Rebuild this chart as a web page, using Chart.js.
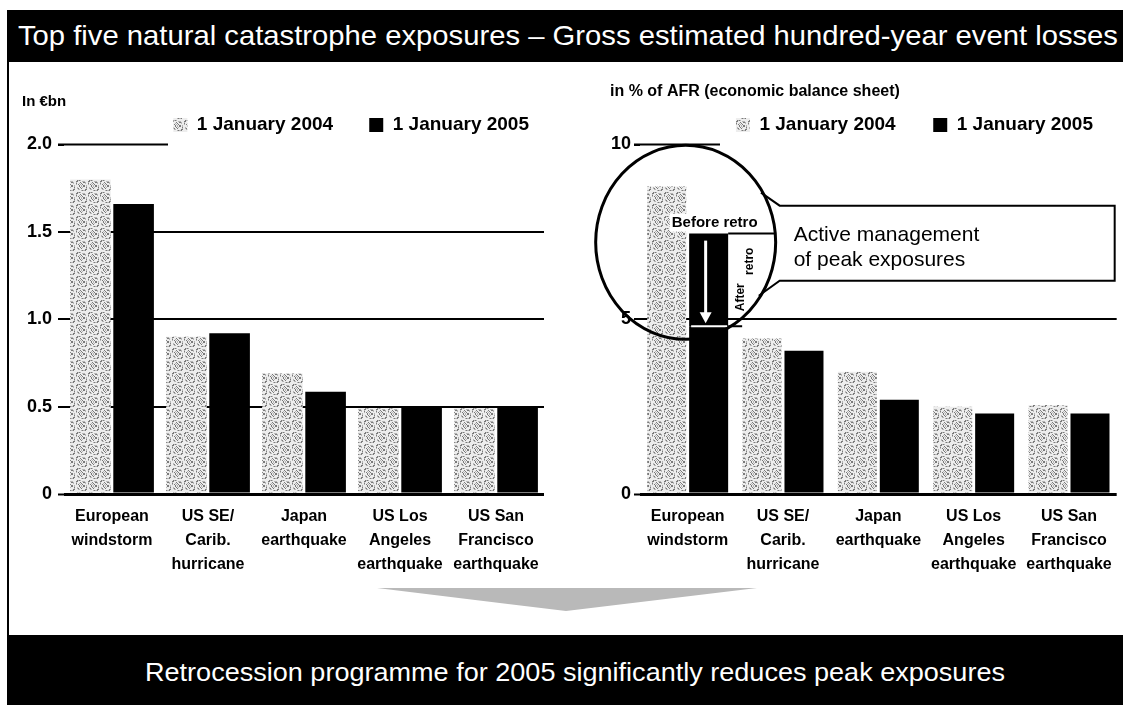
<!DOCTYPE html>
<html>
<head>
<meta charset="utf-8">
<script src="https://cdn.jsdelivr.net/npm/chart.js@4.4.1/dist/chart.umd.min.js"></script>
<style>
  html, body { margin: 0; padding: 0; background: #fff; }
  body { width: 1123px; height: 705px; position: relative; overflow: hidden; font-family: "Liberation Sans", Arial, sans-serif; }
  .band { position: absolute; left: 8px; right: 0; background: #000; color: #fff; overflow: hidden; }
  .band span { position: absolute; white-space: nowrap; transform-origin: 0 50%; }
  #header { top: 10px; height: 52px; }
  #header span { left: 10px; top: 0; line-height: 52px; font-size: 28px; }
  #footer { top: 635px; height: 70px; }
  #footer span { left: 137px; top: 0; line-height: 74px; font-size: 26px; }
  #frame { position: absolute; left: 7px; top: 10px; width: 2px; height: 695px; background: #000; }
  canvas { position: absolute; top: 78px; }
  #leftChart { left: 0; }
  #rightChart { left: 540px; }
  #wedge { position: absolute; left: 0; top: 0; }
</style>
</head>
<body>
<div id="frame"></div>
<div class="band" id="header"><span id="headerText">Top five natural catastrophe exposures – Gross estimated hundred-year event losses</span></div>
<canvas id="leftChart" width="560" height="522"></canvas>
<canvas id="rightChart" width="583" height="522"></canvas>
<svg id="wedge" width="1123" height="705"><polygon points="377,588 757,588 566,611" fill="#b9b9b9"/></svg>
<div class="band" id="footer"><span id="footerText">Retrocession programme for 2005 significantly reduces peak exposures</span></div>
<script>
const FONT = '"Liberation Sans", Arial, sans-serif';

// perils, shared by both panels
const perils = [
  ['European', 'windstorm'],
  ['US SE/', 'Carib.', 'hurricane'],
  ['Japan', 'earthquake'],
  ['US Los', 'Angeles', 'earthquake'],
  ['US San', 'Francisco', 'earthquake']
];
const seriesLabels = ['1 January 2004', '1 January 2005'];

// left panel: in EUR bn
const lossesEbn2004 = [1.80, 0.90, 0.69, 0.49, 0.49];
const lossesEbn2005 = [1.66, 0.92, 0.585, 0.50, 0.50];
const ebnTicks = [0, 0.5, 1.0, 1.5, 2.0];

// right panel: in % of AFR
const afrPct2004 = [8.8, 4.45, 3.5, 2.5, 2.55];
const afrPct2005 = [4.8, 4.1, 2.7, 2.3, 2.3];
const afrPct2005BeforeRetro = [7.45, null, null, null, null];
const afrTicks = [0, 5, 10];

function fitText(id, width) {
  const el = document.getElementById(id);
  const w = el.getBoundingClientRect().width;
  el.style.transform = 'scaleX(' + (width / w) + ')';
}
fitText('headerText', 1100);
fitText('footerText', 860);

// light speckled grey used for the 2004 bars
function stipple() {
  const c = document.createElement('canvas');
  c.width = 12; c.height = 12;
  const g = c.getContext('2d');
  g.fillStyle = '#ededed';
  g.fillRect(0, 0, 12, 12);
  for (let y = 0; y < 12; y++) {
    for (let x = 0; x < 12; x++) {
      const h = (x * 7 + y * 13 + x * y * 3) % 11;
      if (h === 0 || h === 5) { g.fillStyle = '#7a7a7a'; g.fillRect(x, y, 1, 1); }
      else if (h === 3 || h === 8) { g.fillStyle = '#b5b5b5'; g.fillRect(x, y, 1, 1); }
    }
  }
  return g.createPattern(c, 'repeat');
}
const grey = stipple();

// short rule at the top tick instead of a full grid line
const topRule = {
  id: 'topRule',
  beforeDatasetsDraw(chart, args, opts) {
    const { ctx, chartArea, scales: { y } } = chart;
    const yy = y.getPixelForValue(y.max);
    ctx.save();
    ctx.strokeStyle = '#000';
    ctx.lineWidth = 2;
    ctx.beginPath();
    ctx.moveTo(chartArea.left - 6, yy);
    ctx.lineTo(chartArea.left + opts.length, yy);
    ctx.stroke();
    ctx.restore();
  }
};

function buildOptions(cfg) {
  return {
    responsive: false,
    animation: false,
    layout: { padding: cfg.padding },
    plugins: {
      title: {
        display: true, text: cfg.unit, align: 'start', color: '#000',
        font: { family: FONT, size: cfg.unitSize, weight: 'bold' },
        padding: cfg.titlePadding
      },
      legend: {
        position: 'top', align: 'end',
        labels: {
          color: '#000', boxWidth: 14, boxHeight: 14, padding: cfg.legendPadding,
          font: { family: FONT, size: 19, weight: 'bold', lineHeight: 1 },
          filter: item => item.datasetIndex < 2,
          generateLabels: chart => {
            const items = Chart.defaults.plugins.legend.labels.generateLabels(chart);
            items[0].text += cfg.legendGap;
            return items;
          }
        }
      },
      tooltip: { enabled: false },
      topRule: { length: cfg.topRule }
    },
    scales: {
      x: {
        stacked: cfg.stacked,
        grid: { display: false, drawTicks: false },
        border: { display: false },
        ticks: {
          color: '#000', padding: 11, maxRotation: 0, autoSkip: false,
          font: { family: FONT, size: 16, weight: 'bold', lineHeight: 1.5 }
        }
      },
      y: {
        stacked: cfg.stacked,
        min: 0, max: cfg.ticks[cfg.ticks.length - 1],
        afterBuildTicks: s => { s.ticks = cfg.ticks.map(v => ({ value: v })); },
        afterFit: s => { s.width = cfg.axisWidth; },
        border: { display: false },
        grid: {
          color: c => (c.tick && c.tick.value === cfg.ticks[cfg.ticks.length - 1]) ? 'rgba(0,0,0,0)' : '#000',
          lineWidth: c => (c.tick && c.tick.value === 0) ? 3 : 2,
          tickColor: '#000', tickWidth: 2, tickLength: 6
        },
        ticks: {
          color: '#000', padding: cfg.tickPadding,
          font: { family: FONT, size: 18, weight: 'bold' },
          callback: cfg.fmt
        }
      }
    }
  };
}

new Chart(document.getElementById('leftChart'), {
  type: 'bar',
  data: {
    labels: perils,
    datasets: [
      { label: seriesLabels[0], data: lossesEbn2004, backgroundColor: grey, borderWidth: 0, categoryPercentage: 0.9, barPercentage: 0.94 },
      { label: seriesLabels[1], data: lossesEbn2005, backgroundColor: '#000', borderWidth: 0, categoryPercentage: 0.9, barPercentage: 0.94 }
    ]
  },
  options: buildOptions({
    unit: 'In €bn', unitSize: 15,
    padding: { left: 22, right: 16, top: 0, bottom: 12 },
    titlePadding: { top: 15, bottom: -10.5 },
    legendPadding: 15, legendGap: '    ',
    axisWidth: 42, tickPadding: 6, topRule: 104,
    stacked: false, ticks: ebnTicks,
    fmt: v => v === 0 ? '0' : v.toFixed(1)
  }),
  plugins: [topRule]
});

// circle + call-out around the European windstorm retro effect
const retroCallout = {
  id: 'retroCallout',
  afterDatasetsDraw(chart) {
    const { ctx, chartArea } = chart;
    const xs = chart.scales.x, ys = chart.scales.y;
    const bar = chart.getDatasetMeta(1).data[0];
    const half = bar.width / 2;
    const yBefore = ys.getPixelForValue(afrPct2005BeforeRetro[0]);
    const yAfter = ys.getPixelForValue(afrPct2005[0]);
    const cx = xs.getPixelForValue(0) - 2;
    const cy = ys.getPixelForValue(7.2);
    const rx = 90, ry = 97;
    const edgeX = y => cx + rx * Math.sqrt(Math.max(0, 1 - ((y - cy) / ry) ** 2));

    ctx.save();
    // after-retro level across the bar
    ctx.strokeStyle = '#fff';
    ctx.lineWidth = 2;
    ctx.beginPath();
    ctx.moveTo(bar.x - half + 2, yAfter);
    ctx.lineTo(bar.x + half - 1, yAfter);
    ctx.stroke();
    // arrow from before to after
    ctx.lineWidth = 3;
    ctx.beginPath();
    ctx.moveTo(bar.x - 3, yBefore + 7);
    ctx.lineTo(bar.x - 3, yAfter - 12);
    ctx.stroke();
    ctx.fillStyle = '#fff';
    ctx.beginPath();
    ctx.moveTo(bar.x - 9, yAfter - 14);
    ctx.lineTo(bar.x + 3, yAfter - 14);
    ctx.lineTo(bar.x - 3, yAfter - 3);
    ctx.closePath();
    ctx.fill();
    // before-retro level out to the circle
    ctx.strokeStyle = '#000';
    ctx.lineWidth = 2;
    ctx.beginPath();
    ctx.moveTo(bar.x + half, yBefore);
    ctx.lineTo(edgeX(yBefore), yBefore);
    ctx.stroke();
    ctx.beginPath();
    ctx.moveTo(bar.x + half, yAfter);
    ctx.lineTo(bar.x + half + 14, yAfter);
    ctx.stroke();

    // labels
    ctx.textAlign = 'center';
    ctx.textBaseline = 'middle';
    ctx.font = 'bold 15px ' + FONT;
    const before = 'Before retro';
    const bw = ctx.measureText(before).width;
    const lx = bar.x + 6, ly = yBefore - 11;
    ctx.fillStyle = '#fff';
    ctx.fillRect(lx - bw / 2 - 2, ly - 9, bw + 4, 18);
    ctx.fillStyle = '#000';
    ctx.fillText(before, lx, ly);
    ctx.font = 'bold 12px ' + FONT;
    [['After', 13, 29], ['retro', 22, 65]].forEach(([t, dx, dy]) => {
      ctx.save();
      ctx.translate(bar.x + half + dx, yAfter - dy);
      ctx.rotate(-Math.PI / 2);
      ctx.fillText(t, 0, 0);
      ctx.restore();
    });

    // circle
    ctx.lineWidth = 3;
    ctx.beginPath();
    ctx.ellipse(cx, cy, rx, ry, 0, 0, Math.PI * 2);
    ctx.stroke();

    // call-out box with tail into the circle
    const boxTop = ys.getPixelForValue(8.25);
    const boxBottom = ys.getPixelForValue(6.1);
    const boxLeft = cx + rx + 4;
    const boxRight = chartArea.right - 2;
    ctx.lineWidth = 2;
    ctx.beginPath();
    ctx.moveTo(edgeX(boxTop - 13) - 2, boxTop - 13);
    ctx.lineTo(boxLeft, boxTop);
    ctx.lineTo(boxRight, boxTop);
    ctx.lineTo(boxRight, boxBottom);
    ctx.lineTo(boxLeft, boxBottom);
    ctx.lineTo(edgeX(boxBottom + 15) - 2, boxBottom + 15);
    ctx.stroke();
    ctx.textAlign = 'left';
    ctx.font = '21px ' + FONT;
    const mid = (boxTop + boxBottom) / 2;
    ctx.fillText('Active management', boxLeft + 14, mid - 8);
    ctx.fillText('of peak exposures', boxLeft + 14, mid + 17);
    ctx.restore();
  }
};

new Chart(document.getElementById('rightChart'), {
  type: 'bar',
  data: {
    labels: perils,
    datasets: [
      { label: seriesLabels[0], data: afrPct2004, backgroundColor: grey, borderWidth: 0, stack: 'a', categoryPercentage: 0.88, barPercentage: 0.93 },
      { label: seriesLabels[1], data: afrPct2005, backgroundColor: '#000', borderWidth: 0, stack: 'b', categoryPercentage: 0.88, barPercentage: 0.93 },
      { label: 'Before retro', data: afrPct2005BeforeRetro.map((v, i) => v == null ? null : v - afrPct2005[i]), backgroundColor: '#000', borderWidth: 0, stack: 'b', categoryPercentage: 0.88, barPercentage: 0.93 }
    ]
  },
  options: buildOptions({
    unit: 'in % of AFR (economic balance sheet)', unitSize: 16,
    padding: { left: 70, right: 3, top: 0, bottom: 12 },
    titlePadding: { top: 4.4, bottom: -13.1 },
    legendPadding: 27, legendGap: '  ',
    axisWidth: 30, tickPadding: 3, topRule: 80,
    stacked: true, ticks: afrTicks,
    fmt: v => String(v)
  }),
  plugins: [topRule, retroCallout]
});
</script>
</body>
</html>
